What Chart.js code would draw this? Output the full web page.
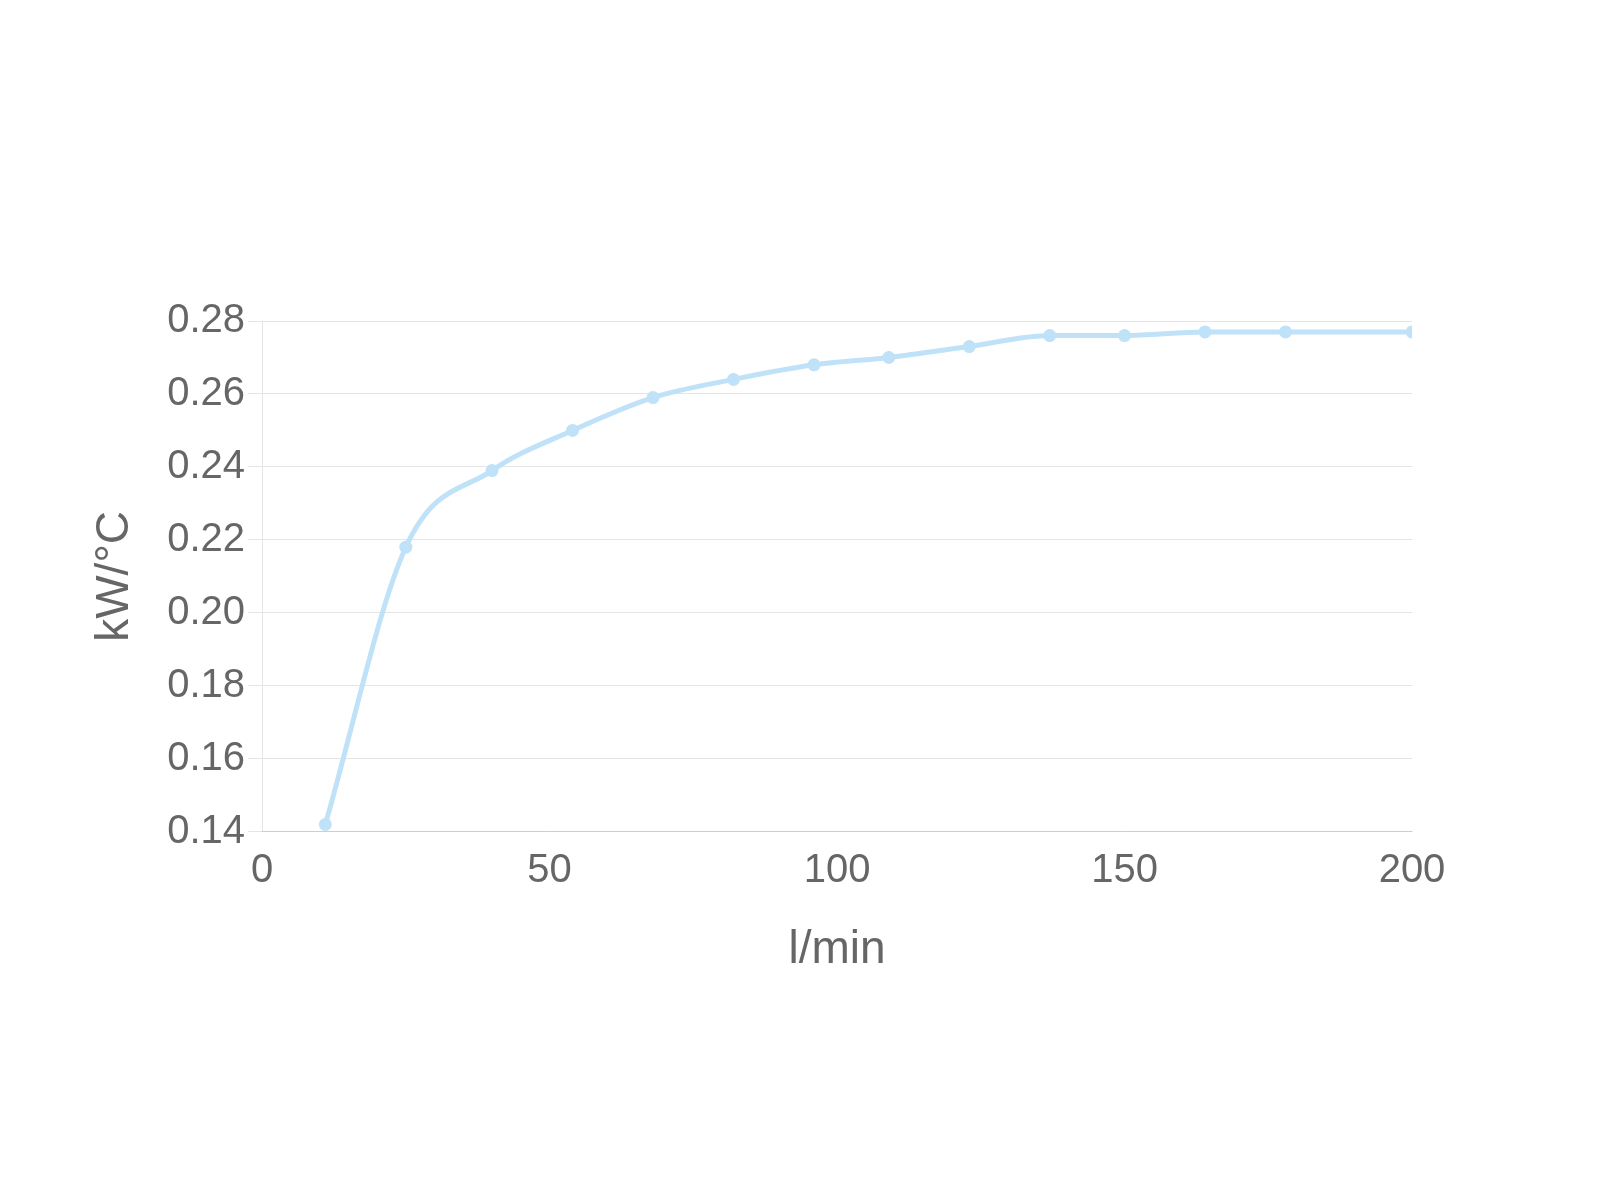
<!DOCTYPE html>
<html>
<head>
<meta charset="utf-8">
<style>
  html, body { margin: 0; padding: 0; background: #fff; }
  #wrap { position: relative; width: 1600px; height: 1200px; }
</style>
<script src="https://cdn.jsdelivr.net/npm/chart.js@4"></script>
</head>
<body>
<div id="wrap"><canvas id="c"></canvas></div>
<script>
const flowRates = [11, 25, 40, 54, 68, 82, 96, 109, 123, 137, 150, 164, 178, 200];
const heatValues = [0.142, 0.218, 0.239, 0.250, 0.259, 0.264, 0.268, 0.270, 0.273, 0.276, 0.276, 0.277, 0.277, 0.277];
const xTitle = 'l/min';
const yTitle = 'kW/°C';

const points = flowRates.map((x, i) => ({ x: x, y: heatValues[i] }));
const lineColor = 'rgb(192, 226, 248)';
const fontFamily = '"Liberation Sans", Arial, Helvetica, sans-serif';

new Chart(document.getElementById('c'), {
  type: 'line',
  data: {
    datasets: [{
      data: points,
      borderColor: lineColor,
      backgroundColor: lineColor,
      pointBackgroundColor: lineColor,
      pointBorderColor: lineColor,
      borderWidth: 5,
      pointRadius: 4,
      cubicInterpolationMode: 'monotone',
      fill: false
    }]
  },
  options: {
    responsive: true,
    maintainAspectRatio: false,
    animation: false,
    layout: { padding: { left: 84, right: 188, top: 321, bottom: 218 } },
    plugins: { legend: { display: false }, tooltip: { enabled: false } },
    scales: {
      x: {
        type: 'linear',
        min: 0,
        max: 200,
        grid: { display: false, drawTicks: false },
        border: { display: true, color: 'rgba(0,0,0,0.1)' },
        ticks: { stepSize: 50, padding: 15, color: '#666', font: { family: fontFamily, size: 40 } },
        title: { display: true, text: xTitle, color: '#666', font: { family: fontFamily, size: 46 }, padding: { top: 13, bottom: 4 } }
      },
      y: {
        type: 'linear',
        min: 0.14,
        max: 0.28,
        grid: { color: 'rgba(0,0,0,0.1)', tickLength: 14 },
        border: { display: true, color: 'rgba(0,0,0,0.1)' },
        ticks: {
          stepSize: 0.02,
          padding: 3,
          color: '#666',
          font: { family: fontFamily, size: 40 },
          callback: v => Number(v).toFixed(2)
        },
        title: { display: true, text: yTitle, color: '#666', font: { family: fontFamily, size: 46 }, padding: { top: 4, bottom: 21 } }
      }
    }
  }
});
</script>
</body>
</html>
